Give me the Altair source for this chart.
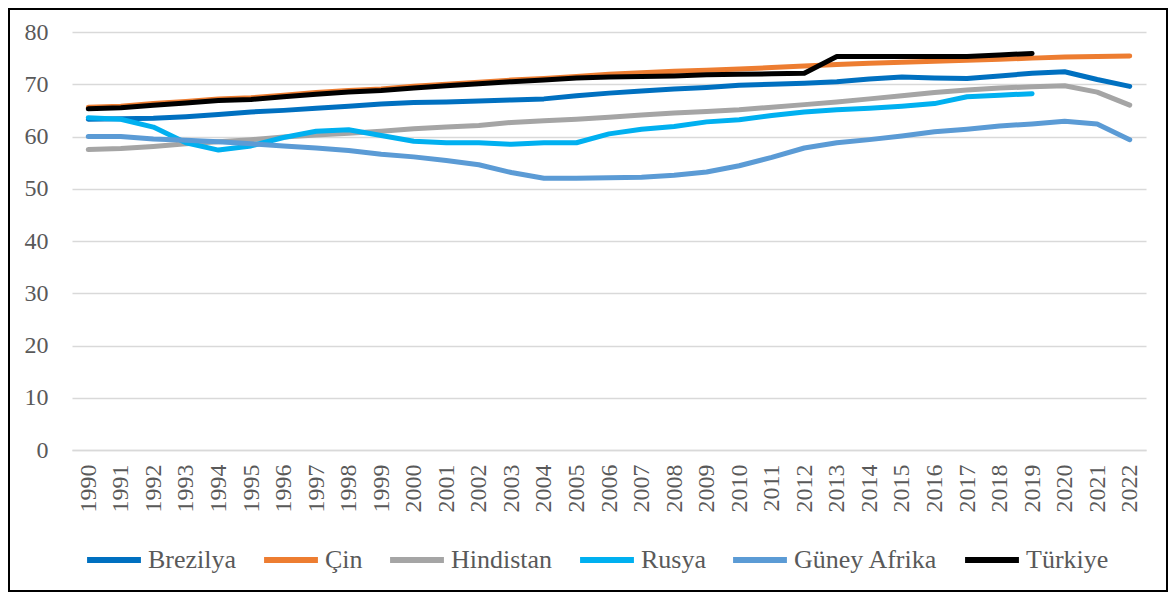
import altair as alt
import pandas as pd

years = [str(y) for y in range(1990, 2023)]

brezilya = [63.3, 63.4, 63.5, 63.8, 64.2, 64.7, 65.0, 65.4, 65.8, 66.2, 66.5, 66.6, 66.8, 67.0, 67.2, 67.8,
            68.3, 68.7, 69.1, 69.4, 69.8, 70.0, 70.2, 70.5, 71.0, 71.4, 71.2, 71.1, 71.6, 72.1, 72.4, 70.9, 69.6]
cin = [65.6, 65.8, 66.3, 66.7, 67.2, 67.4, 67.9, 68.4, 68.8, 69.1, 69.6, 70.0, 70.4, 70.8, 71.1, 71.5,
       71.9, 72.2, 72.5, 72.7, 72.9, 73.2, 73.5, 73.8, 74.0, 74.2, 74.4, 74.6, 74.8, 75.0, 75.2, 75.3, 75.4]
hindistan = [57.5, 57.7, 58.1, 58.6, 59.0, 59.4, 59.9, 60.3, 60.6, 61.0, 61.5, 61.8, 62.1, 62.7, 63.0, 63.3,
             63.7, 64.1, 64.5, 64.8, 65.1, 65.6, 66.1, 66.6, 67.2, 67.8, 68.4, 68.9, 69.3, 69.5, 69.7, 68.5, 66.0]
rusya = [63.6, 63.3, 61.8, 58.8, 57.4, 58.2, 59.8, 61.0, 61.3, 60.2, 59.1, 58.8, 58.8, 58.5, 58.8, 58.8,
         60.5, 61.4, 61.9, 62.8, 63.2, 64.0, 64.7, 65.1, 65.4, 65.8, 66.3, 67.6, 67.9, 68.2, None, None, None]
guney_afrika = [60.0, 60.0, 59.5, 59.3, 59.0, 58.6, 58.2, 57.8, 57.3, 56.6, 56.1, 55.4, 54.6, 53.1, 52.0, 52.0,
                52.1, 52.2, 52.6, 53.2, 54.4, 56.0, 57.8, 58.8, 59.4, 60.1, 60.9, 61.4, 62.0, 62.4, 62.9, 62.4, 59.4]
turkiye = [65.3, 65.5, 66.0, 66.4, 66.9, 67.1, 67.6, 68.1, 68.5, 68.8, 69.3, 69.7, 70.1, 70.5, 70.8, 71.2,
           71.4, 71.5, 71.6, 71.8, 71.9, 72.0, 72.1, 75.3, 75.3, 75.3, 75.3, 75.3, 75.6, 75.9, None, None, None]

series_names = ["Brezilya", "Çin", "Hindistan", "Rusya", "Güney Afrika", "Türkiye"]
series_values = [brezilya, cin, hindistan, rusya, guney_afrika, turkiye]
colors = ["#0070C0", "#ED7D31", "#A5A5A5", "#00B0F0", "#5B9BD5", "#000000"]

rows = []
for order, (name, vals) in enumerate(zip(series_names, series_values)):
    for yr, v in zip(years, vals):
        if v is not None:
            rows.append({"Yıl": yr, "Ülke": name, "Değer": v, "sira": order})
df = pd.DataFrame(rows)

FONT = "Liberation Serif"
GREY = "#595959"
W, H = 1074, 418

lines = alt.Chart(df).mark_line(strokeWidth=5, strokeCap="round", strokeJoin="round").encode(
    x=alt.X("Yıl:O", sort=years,
            scale=alt.Scale(type="point", padding=0.5),
            axis=alt.Axis(title=None, labelAngle=270, labelFont=FONT, labelFontSize=24,
                          labelColor=GREY, labelPadding=14, ticks=False,
                          domainColor="#d9d9d9", domainWidth=1.5, grid=False)),
    y=alt.Y("Değer:Q", scale=alt.Scale(domain=[0, 80], nice=False),
            axis=alt.Axis(title=None, values=list(range(0, 81, 10)), labelFont=FONT,
                          labelFontSize=24, labelColor=GREY, labelPadding=24, ticks=False,
                          domain=False, grid=True, gridColor="#d9d9d9", gridWidth=1.5)),
    color=alt.Color("Ülke:N", sort=series_names,
                    scale=alt.Scale(domain=series_names, range=colors),
                    legend=alt.Legend(title=None, orient="none", direction="horizontal",
                                      legendX=12, legendY=498, symbolType="stroke",
                                      symbolSize=2900, symbolStrokeWidth=6,
                                      labelFont=FONT, labelFontSize=26, labelColor=GREY,
                                      labelOffset=4, columnPadding=15, padding=0)),
    order=alt.Order("sira:Q"),
    detail="Ülke:N",
)

border = alt.Chart(pd.DataFrame({"k": [0]})).mark_rect(
    filled=False, stroke="#000000", strokeWidth=2
).encode(
    x=alt.value(-63), x2=alt.value(W + 21),
    y=alt.value(-23), y2=alt.value(H + 141),
)

chart = alt.layer(border, lines).properties(
    width=W, height=H,
    autosize=alt.AutoSizeParams(type="none"),
    padding={"left": 64, "top": 24, "right": 22, "bottom": 142},
    background="white",
).configure_view(stroke=None)

chart.save("out.html", embed_options={"renderer": "svg", "actions": False})
